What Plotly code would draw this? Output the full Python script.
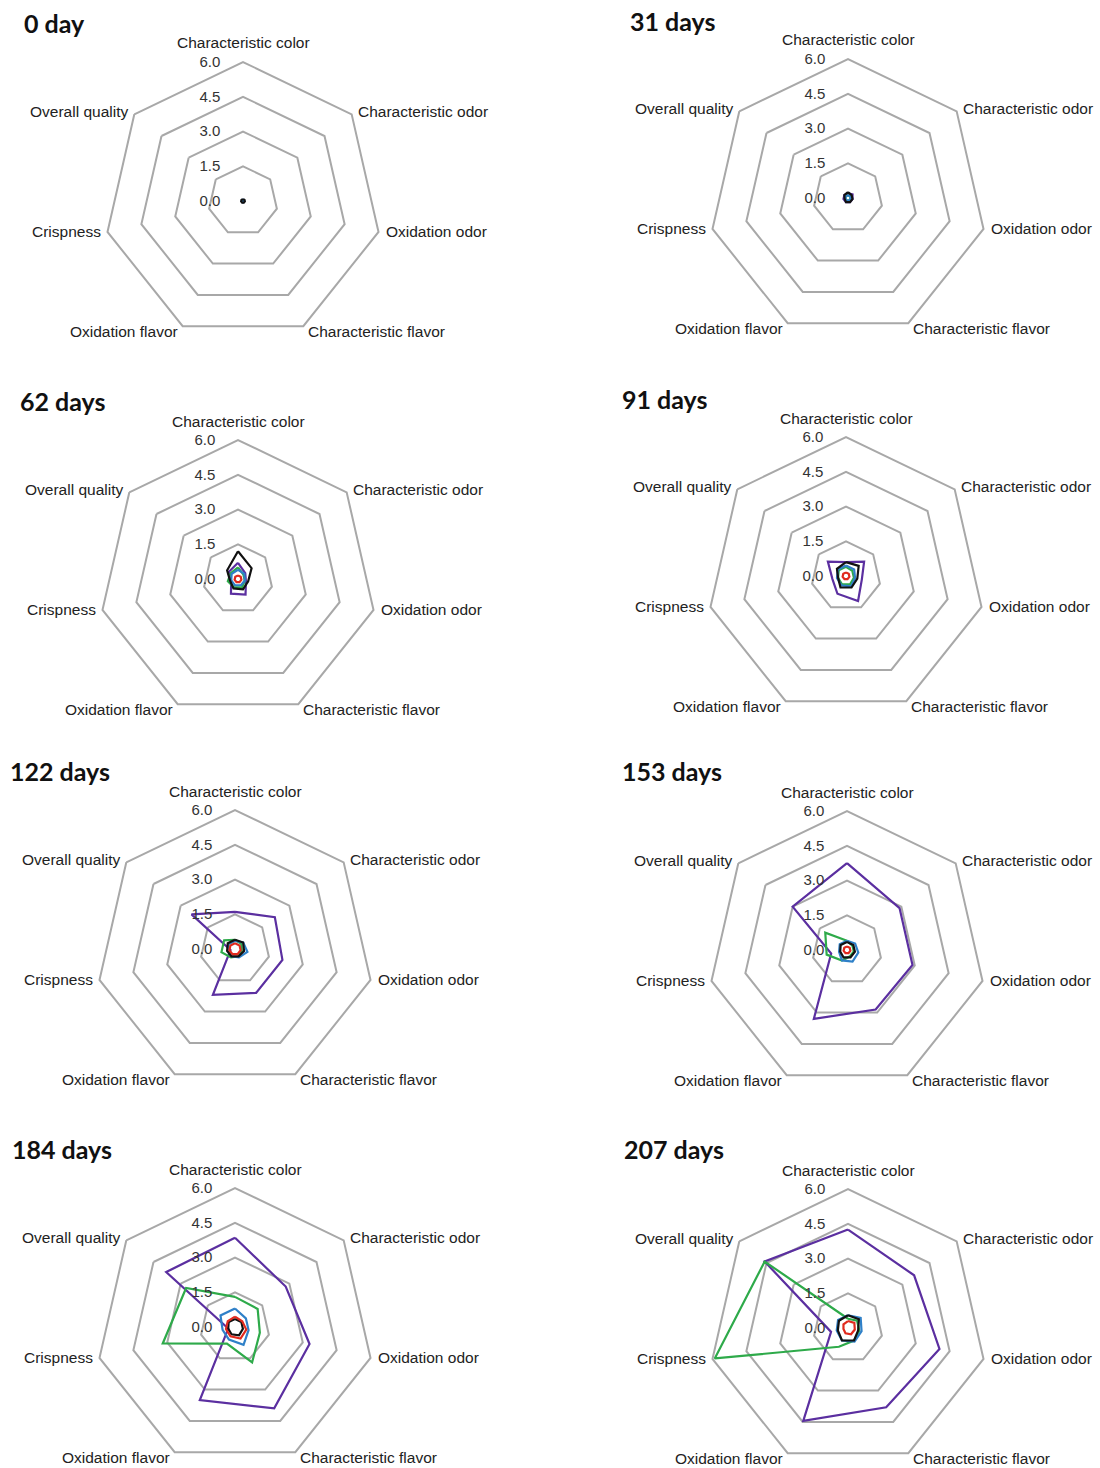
import math
import plotly.graph_objects as go

attributes = ["Characteristic color", "Characteristic odor", "Oxidation odor",
              "Characteristic flavor", "Oxidation flavor", "Crispness", "Overall quality"]

panel_titles = ["0 day", "31 days", "62 days", "91 days", "122 days", "153 days", "184 days", "207 days"]

series_names = ["Series 1", "Series 2", "Series 3", "Series 4", "Series 5"]
series_colors = ["#5B2FA0", "#2EAA4A", "#2F80C8", "#111111", "#E02A1E"]

radial_ticks = [0, 1.5, 3.0, 4.5, 6.0]
radial_ticktext = ["0.0", "1.5", "3.0", "4.5", "6.0"]

# values per panel: purple, green, blue, black, red
day0 = [[0.05] * 7, [0.04] * 7, [0.06] * 7, [0.08] * 7, [0.0] * 7]
day31 = [[0.2, 0.25, 0.2, 0.2, 0.2, 0.2, 0.2],
         [0.12] * 7,
         [0.12] * 7,
         [0.25, 0.2, 0.2, 0.2, 0.2, 0.15, 0.2],
         [0.0] * 7]
day62 = [[0.7, 0.4, 0.35, 0.75, 0.7, 0.3, 0.5],
         [0.5, 0.3, 0.3, 0.4, 0.4, 0.45, 0.4],
         [0.4, 0.35, 0.3, 0.3, 0.3, 0.3, 0.35],
         [1.2, 0.75, 0.45, 0.5, 0.45, 0.35, 0.6],
         [0.15] * 7]
day91 = [[0.6, 1.0, 0.7, 1.2, 0.85, 0.6, 1.0],
         [0.4, 0.35, 0.35, 0.4, 0.4, 0.35, 0.4],
         [0.45, 0.45, 0.4, 0.5, 0.45, 0.4, 0.45],
         [0.6, 0.7, 0.5, 0.55, 0.55, 0.35, 0.5],
         [0.15] * 7]
day122 = [[1.6, 2.2, 2.1, 2.1, 2.2, 0.2, 2.4],
          [0.4, 0.35, 0.3, 0.35, 0.4, 0.6, 0.6],
          [0.35, 0.45, 0.55, 0.4, 0.35, 0.3, 0.35],
          [0.4, 0.45, 0.4, 0.35, 0.35, 0.35, 0.4],
          [0.25] * 7]
day153 = [[3.75, 2.9, 2.9, 2.85, 3.3, 0.7, 3.0],
          [0.4, 0.3, 0.3, 0.3, 0.5, 0.9, 1.2],
          [0.4, 0.45, 0.5, 0.55, 0.5, 0.35, 0.4],
          [0.35, 0.35, 0.35, 0.35, 0.35, 0.3, 0.35],
          [0.15] * 7]
day184 = [[3.85, 2.8, 3.3, 3.9, 3.5, 0.3, 3.8],
          [1.3, 1.25, 1.1, 1.7, 0.8, 3.2, 2.7],
          [0.8, 0.6, 0.6, 0.85, 0.6, 0.55, 0.8],
          [0.35, 0.35, 0.35, 0.4, 0.35, 0.3, 0.35],
          [0.45, 0.4, 0.5, 0.55, 0.45, 0.4, 0.4]]
day207 = [[4.25, 3.65, 4.05, 3.8, 4.45, 0.75, 4.6],
          [0.4, 0.5, 0.5, 0.6, 0.9, 5.9, 4.6],
          [0.55, 0.7, 0.6, 0.65, 0.6, 0.5, 0.55],
          [0.55, 0.6, 0.45, 0.6, 0.6, 0.45, 0.5],
          [0.3, 0.35, 0.3, 0.3, 0.25, 0.2, 0.25]]

panels = [day0, day31, day62, day91, day122, day153, day184, day207]

W, H = 1100, 1468
centers = [(243, 201), (848, 198), (238, 579), (846, 576),
           (235, 949), (847, 950), (235, 1327), (848, 1328)]
R = 139
title_pos = [(22, 23), (628, 21), (18, 401), (620, 399),
             (8, 771), (620, 771), (10, 1149), (622, 1149)]

# label anchor rules per spoke: (xanchor, dx, dy)
label_rules = [("center", 0, -19), ("left", 4, -3), ("left", 5, 0), ("left", 3, 5),
               ("right", -3, 5), ("right", -4, 0), ("right", -4, -3)]

fig = go.Figure()
theta_closed = attributes + [attributes[0]]

layout_updates = {}
n = len(attributes)
for i, data in enumerate(panels):
    pname = "polar" if i == 0 else f"polar{i + 1}"
    for s, vals in enumerate(data):
        if max(vals) <= 0:
            continue
        fig.add_trace(go.Scatterpolar(
            r=vals + [vals[0]], theta=theta_closed, mode="lines",
            line=dict(color=series_colors[s], width=2.2),
            name=series_names[s], showlegend=False, subplot=pname,
            hoverinfo="skip"))
    cx, cy = centers[i]
    layout_updates[pname] = dict(
        domain=dict(x=[(cx - R) / W, (cx + R) / W],
                    y=[1 - (cy + R) / H, 1 - (cy - R) / H]),
        gridshape="linear",
        bgcolor="rgba(0,0,0,0)",
        radialaxis=dict(range=[0, 6], tickvals=radial_ticks, ticktext=radial_ticktext,
                        showline=False, ticks="outside", ticklen=17,
                        tickcolor="rgba(0,0,0,0)", angle=90, tickangle=90,
                        side="counterclockwise",
                        showgrid=True, gridcolor="#A8A8A8", gridwidth=2,
                        tickfont=dict(family="Liberation Sans", size=15, color="#333333")),
        angularaxis=dict(rotation=90, direction="clockwise", showgrid=False,
                         showline=True, linecolor="#A8A8A8", linewidth=2, ticks="",
                         showticklabels=False),
    )
    for k, name in enumerate(attributes):
        a = math.radians(k * 360 / n)
        vx = cx + R * math.sin(a)
        vy = cy - R * math.cos(a)
        xa, dx, dy = label_rules[k]
        fig.add_annotation(text=name, x=(vx + dx) / W, y=1 - (vy + dy) / H,
                           xref="paper", yref="paper", xanchor=xa, yanchor="middle",
                           showarrow=False,
                           font=dict(family="Liberation Sans", size=15.5, color="#222222"))
    tx, ty = title_pos[i]
    fig.add_annotation(text=f"<b>{panel_titles[i]}</b>", x=tx / W, y=1 - ty / H,
                       xref="paper", yref="paper", xanchor="left", yanchor="middle",
                       showarrow=False,
                       font=dict(family="Lato", size=25, color="#111111"))

fig.update_layout(width=W, height=H, margin=dict(l=0, r=0, t=0, b=0),
                  paper_bgcolor="white", plot_bgcolor="white", showlegend=False,
                  **layout_updates)

fig.write_html("out.html")
